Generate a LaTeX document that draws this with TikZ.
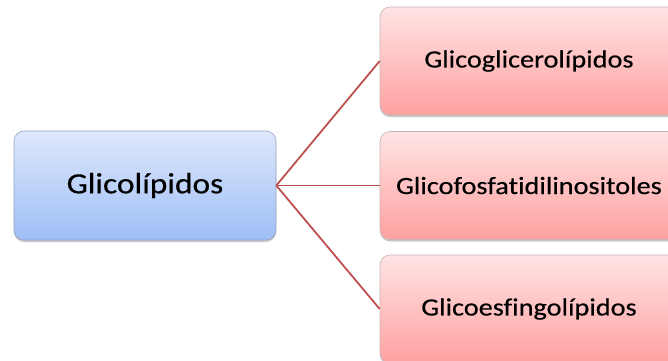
\documentclass[tikz,border=0pt]{standalone}
\usepackage{fontspec}
\setmainfont{Carlito}
\newfontfamily\boxfont[FakeStretch=1.14,FakeBold=0.4,Ligatures={NoCommon}]{Carlito}
\usetikzlibrary{shadows}
\definecolor{bluetop}{RGB}{222,232,252}
\definecolor{bluebot}{RGB}{158,190,246}
\definecolor{blueedge}{RGB}{150,165,195}
\definecolor{redtop}{RGB}{255,228,228}
\definecolor{redbot}{RGB}{255,160,160}
\definecolor{rededge}{RGB}{200,180,180}
\definecolor{linkcol}{RGB}{190,80,80}
\tikzset{
  rootbox/.style={draw=blueedge, line width=0.6pt, rounded corners=10pt,
    top color=bluetop, bottom color=bluebot,
    minimum width=262pt, minimum height=109pt, inner sep=0pt,
    drop shadow={shadow xshift=0pt, shadow yshift=-2pt, opacity=0.35, fill=black!60},
    font=\boxfont\fontsize{29.3}{34}\selectfont, text=black},
  leafbox/.style={draw=rededge, line width=0.6pt, rounded corners=10pt,
    top color=redtop, bottom color=redbot,
    minimum width=298pt, minimum height=108pt, inner sep=0pt,
    drop shadow={shadow xshift=0pt, shadow yshift=-2pt, opacity=0.35, fill=black!60},
    font=\boxfont\fontsize{24.8}{30}\selectfont, text=black},
  link/.style={draw=linkcol, line width=1.8pt}
}
\begin{document}
\begin{tikzpicture}[x=1pt,y=-1pt]
\clip (0,0) rectangle (668,360);
\fill[white] (0,0) rectangle (668,360);
\node[rootbox] (root) at (145,185.5) {Glicolípidos};
\node[leafbox] (a) at (529,61) {Glicoglicerolípidos};
\node[leafbox] (b) at (529,185.5) {Glicofosfatidilinositoles};
\node[leafbox] (c) at (529,309) {Glicoesfingolípidos};
\draw[link] (root.east) -- (a.west);
\draw[link] (root.east) -- (b.west);
\draw[link] (root.east) -- (c.west);
\end{tikzpicture}
\end{document}
